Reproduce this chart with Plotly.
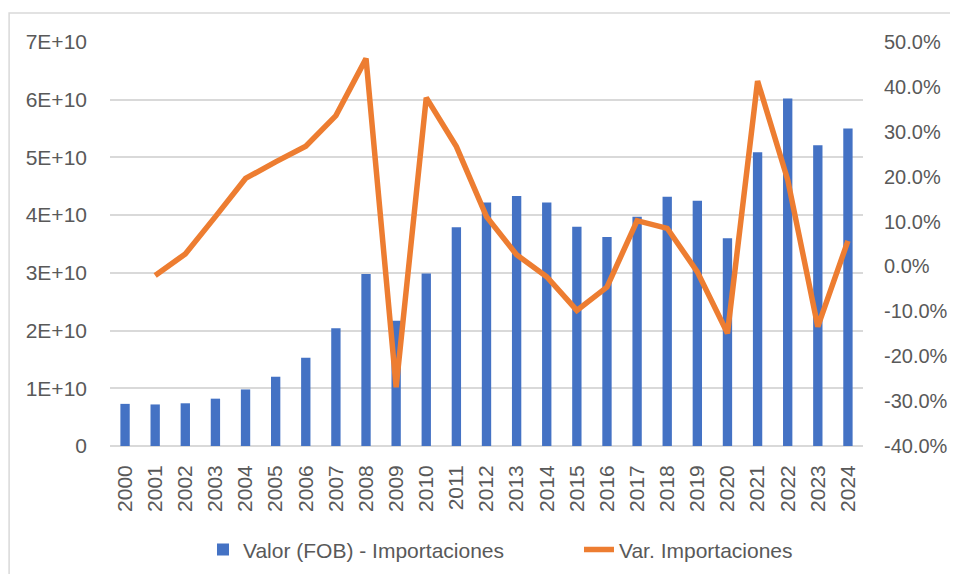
import plotly.graph_objects as go

years = [str(y) for y in range(2000, 2025)]
valor_fob = [7.3e9, 7.2e9, 7.4e9, 8.2e9, 9.8e9, 12.0e9, 15.3e9, 20.4e9, 29.8e9, 21.7e9,
             29.9e9, 37.9e9, 42.2e9, 43.3e9, 42.2e9, 38.0e9, 36.2e9, 39.7e9, 43.2e9, 42.5e9,
             36.0e9, 50.9e9, 60.2e9, 52.1e9, 55.0e9]
var_import = [None, -0.020, 0.028, 0.111, 0.196, 0.233, 0.268, 0.336, 0.463, -0.269,
              0.376, 0.267, 0.111, 0.026, -0.023, -0.098, -0.046, 0.102, 0.085, -0.012,
              -0.149, 0.413, 0.193, -0.134, 0.057]
left_tickvals = [0, 1e10, 2e10, 3e10, 4e10, 5e10, 6e10, 7e10]
left_ticktext = ["0", "1E+10", "2E+10", "3E+10", "4E+10", "5E+10", "6E+10", "7E+10"]
right_tickvals = [-0.4, -0.3, -0.2, -0.1, 0.0, 0.1, 0.2, 0.3, 0.4, 0.5]
right_ticktext = ["-40.0%", "-30.0%", "-20.0%", "-10.0%", "0.0%", "10.0%", "20.0%",
                  "30.0%", "40.0%", "50.0%"]

FONT = "Liberation Sans"
TXT = "#595959"
FS = 21

fig = go.Figure()
fig.add_trace(go.Bar(x=years, y=valor_fob, name="Valor (FOB) - Importaciones",
                     marker=dict(color="#4472C4", line=dict(width=0)), width=0.31))
fig.add_trace(go.Scatter(x=years, y=var_import, name="Var. Importaciones", yaxis="y2",
                         mode="lines", line=dict(color="#ED7D31", width=5.5)))

fig.update_layout(
    width=942, height=566,
    margin=dict(l=102, r=87, t=34, b=128, autoexpand=False),
    paper_bgcolor="white", plot_bgcolor="white",
    font=dict(family=FONT, size=FS, color=TXT),
    showlegend=True,
    legend=dict(orientation="h", x=0.1235, xanchor="left", y=-0.257, yanchor="middle",
                font=dict(family=FONT, size=FS, color=TXT), entrywidth=331,
                entrywidthmode="pixels", traceorder="normal"),
    xaxis=dict(type="category", tickangle=-90, showgrid=False, showline=False, ticks="",
               tickfont=dict(size=FS, color=TXT), ticklabelstandoff=14, automargin=False),
    yaxis=dict(range=[0, 7e10], tickvals=left_tickvals, ticktext=left_ticktext,
               showgrid=True, gridcolor="#D9D9D9", gridwidth=1.5, zeroline=True,
               zerolinecolor="#D9D9D9", zerolinewidth=1.5, showline=False, ticks="",
               ticklabelstandoff=22, automargin=False),
    yaxis2=dict(range=[-0.4, 0.5], tickvals=right_tickvals, ticktext=right_ticktext,
                overlaying="y", side="right", showgrid=False, zeroline=False,
                showline=False, ticks="", ticklabelstandoff=20, automargin=False,
                tickfont=dict(size=20, color=TXT)),
    shapes=[dict(type="rect", xref="paper", yref="paper", x0=-0.134, x1=1.3, y0=-0.5, y1=1.072,
                 line=dict(color="#D9D9D9", width=1.5), fillcolor="rgba(0,0,0,0)", layer="below")],
)

fig.write_html("out.html")
